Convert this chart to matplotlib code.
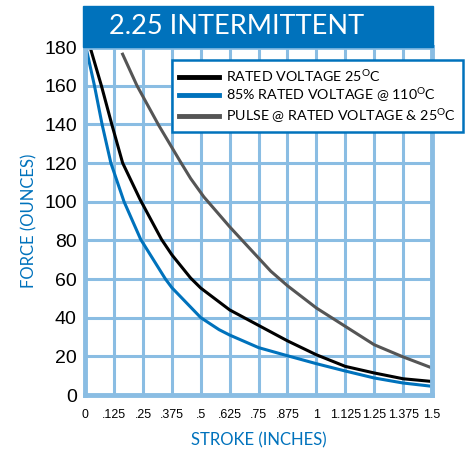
import matplotlib.pyplot as plt
from matplotlib.patches import Rectangle
from matplotlib.lines import Line2D

# データ (読み取り値)
black_x = [0.021, 0.07, 0.115, 0.162, 0.238, 0.33, 0.375, 0.456, 0.5, 0.625, 0.75, 0.875, 1.0, 1.125, 1.25, 1.375, 1.5]
black_y = [180, 160, 140, 120, 101, 80.5, 72.5, 60.5, 55.3, 44, 36, 28, 20.8, 14.8, 11.4, 8.4, 7.0]

blue_x = [0.003, 0.04, 0.073, 0.111, 0.168, 0.24, 0.347, 0.375, 0.5, 0.579, 0.625, 0.75, 0.875, 1.0, 1.125, 1.25, 1.375, 1.5]
blue_y = [180, 160, 140, 120, 100, 80.5, 60, 55.5, 40, 33.8, 31, 24.5, 20.3, 16.2, 12.4, 8.8, 6.2, 4.5]

gray_x = [0.159, 0.224, 0.318, 0.41, 0.456, 0.513, 0.625, 0.71, 0.803, 0.875, 1.0, 1.125, 1.25, 1.375, 1.5]
gray_y = [177, 160, 139.5, 121, 112, 102.5, 87, 76, 64, 56.5, 45, 35.5, 26, 19.7, 14]

x_ticks = [0, 0.125, 0.25, 0.375, 0.5, 0.625, 0.75, 0.875, 1, 1.125, 1.25, 1.375, 1.5]
x_labels = ["0", ".125", ".25", ".375", ".5", ".625", ".75", ".875", "1", "1.125", "1.25", "1.375", "1.5"]
y_ticks = list(range(0, 181, 20))

series_labels = [
    r"RATED VOLTAGE 25$^{\mathrm{O}}$C",
    r"85% RATED VOLTAGE @ 110$^{\mathrm{O}}$C",
    r"PULSE @ RATED VOLTAGE & 25$^{\mathrm{O}}$C",
]

BLUE = "#0072BC"
GRID = "#8ABDE3"
GRAY = "#555555"

plt.rcParams["mathtext.fontset"] = "custom"
plt.rcParams["mathtext.rm"] = "Lato"

fig = plt.figure(figsize=(4.77, 4.51), dpi=100)
ax = fig.add_axes([85.2 / 477, 56 / 451, 346.8 / 477, 348 / 451])

ax.plot(black_x, black_y, color="black", lw=2.2, solid_capstyle="butt")
ax.plot(blue_x, blue_y, color=BLUE, lw=2.2, solid_capstyle="butt")
ax.plot(gray_x, gray_y, color=GRAY, lw=2.2, solid_capstyle="butt")

ax.set_xlim(0, 1.5)
ax.set_ylim(0, 180)
ax.set_xticks(x_ticks)
ax.set_xticklabels(x_labels, family="Liberation Sans", fontsize=8.9)
ax.set_yticks(y_ticks)
for t in ax.get_yticklabels():
    t.set_family("Liberation Sans")
    t.set_fontsize(14)
ax.tick_params(length=0)
ax.tick_params(axis="x", pad=10)
ax.tick_params(axis="y", pad=6)
ax.grid(True, color=GRID, lw=2.2)
ax.set_axisbelow(True)
for s in ax.spines.values():
    s.set_color(GRID)
    s.set_linewidth(3.5)

ax.set_xlabel("STROKE (INCHES)", family="Lato", fontsize=12, color=BLUE, labelpad=8)
ax.set_ylabel("FORCE (OUNCES)", family="Lato", fontsize=12, color=BLUE, labelpad=5)

# 凡例
handles = [
    Line2D([], [], color="black", lw=3.5),
    Line2D([], [], color=BLUE, lw=3.5),
    Line2D([], [], color=GRAY, lw=3.5),
]
leg = fig.legend(handles, series_labels, loc="upper left",
                 bbox_to_anchor=(171.7 / 477, 1 - 60 / 451),
                 prop={"family": "Lato", "size": 10.3},
                 frameon=True, fancybox=False, edgecolor=BLUE, framealpha=1,
                 handlelength=2.8, handletextpad=0.5, labelspacing=0.15,
                 borderpad=0.5, borderaxespad=0)
leg.get_frame().set_linewidth(1.8)

# タイトル帯
fig.patches.append(Rectangle((82.7 / 477, 1 - 46.7 / 451), 350.6 / 477, 40.7 / 451,
                             transform=fig.transFigure, color=BLUE, zorder=5))
fig.text(109 / 477, 1 - 26.5 / 451, "2.25 INTERMITTENT", color="white",
         family="Lato", fontsize=19.5, va="center", ha="left", zorder=6)

plt.savefig("out.png", dpi=100)
